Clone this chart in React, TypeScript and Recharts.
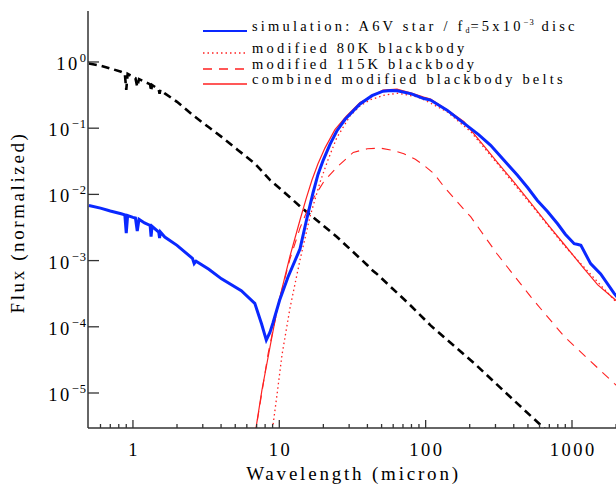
import React from 'react';
import { LineChart, Line, XAxis, YAxis, Legend } from 'recharts';

// ---------- data (wavelength in micron, normalized flux) ----------
const starWavelength = [0.5, 0.6, 0.7, 0.83, 0.88, 0.9, 0.92, 1.04, 1.07, 1.1, 1.27, 1.31, 1.33, 1.35, 1.5, 1.52, 1.54, 1.65, 2.0, 2.65, 3.3, 4.03, 5.2, 6.81, 8.66, 10, 14.2, 24.8, 40, 43, 46, 78.9, 108, 215, 424, 600, 700];
const starFlux = [0.95, 0.88, 0.8, 0.71, 0.67, 0.38, 0.66, 0.57, 0.42, 0.55, 0.476, 0.46, 0.36, 0.45, 0.385, 0.33, 0.38, 0.336, 0.25, 0.149, 0.103, 0.0739, 0.047, 0.0292, 0.0164, 0.0125, 0.0063, 0.00227, 0.00085, 0.00072, 0.00064, 0.00021, 0.000105, 0.000028, 0.0000069, 0.0000034, 0.0000025];

const simWavelength = [0.5, 0.6, 0.7, 0.83, 0.88, 0.9, 0.92, 1.0, 1.04, 1.07, 1.1, 1.2, 1.31, 1.33, 1.35, 1.5, 1.52, 1.54, 1.65, 2.0, 2.55, 2.62, 2.7, 3.3, 4.03, 5.5, 6.8, 7.57, 8.15, 8.64, 9.05, 10.06, 11.47, 13.85, 15.22, 16.99, 18.38, 19.97, 22.2, 24.66, 28.1, 35.6, 43, 51.2, 58, 64, 80, 97, 108, 140, 183, 230, 278, 343, 424, 500, 580, 680, 797, 900, 1035, 1100, 1150, 1340, 1570, 1940, 2100];
const simFlux = [0.0068, 0.0062, 0.0056, 0.0051, 0.0049, 0.0026, 0.0048, 0.0045, 0.0044, 0.0028, 0.0042, 0.0037, 0.0034, 0.0023, 0.0033, 0.0027, 0.0022, 0.0027, 0.00227, 0.0017, 0.00108, 0.0009, 0.00098, 0.00074, 0.00053, 0.00035, 0.000226, 0.00011, 0.000063, 0.000083, 0.000114, 0.000254, 0.000565, 0.0015, 0.0038, 0.0105, 0.02, 0.033, 0.057, 0.09, 0.135, 0.232, 0.31, 0.362, 0.372, 0.368, 0.33, 0.28, 0.266, 0.187, 0.118, 0.08, 0.055, 0.0327, 0.0194, 0.0125, 0.0081, 0.0055, 0.0036, 0.0025, 0.0018, 0.00175, 0.0017, 0.0009, 0.00063, 0.00032, 0.00026];

const bb80Wavelength = [8.37, 9.01, 9.64, 10.43, 11.83, 13.85, 16.2, 18.97, 21.5, 24.66, 30.4, 35.6, 41.6, 51.1, 63.7, 87.3, 97, 140, 203, 307, 525, 886, 2000, 2100];
const bb80Flux = [0.00000097, 0.000003, 0.0000093, 0.0000375, 0.000192, 0.00102, 0.0046, 0.0152, 0.0331, 0.0711, 0.153, 0.216, 0.267, 0.312, 0.337, 0.299, 0.27, 0.177, 0.089, 0.0297, 0.007, 0.00168, 0.000237, 0.00021];

const bb115Wavelength = [6.5, 6.95, 8.4, 10.06, 11.83, 13.85, 16.2, 20.1, 24.8, 32, 40, 49, 60, 71, 85, 97, 114, 134, 183, 203, 307, 525, 886, 1940, 2100];
const bb115Flux = [0.0000013, 0.000003, 0.00004, 0.00027, 0.00106, 0.0031, 0.0072, 0.0155, 0.026, 0.043, 0.049, 0.05, 0.046, 0.041, 0.034, 0.0276, 0.0206, 0.0129, 0.0059, 0.0046, 0.00127, 0.00028, 0.000071, 0.000014, 0.000012];

const combinedWavelength = [6.5, 6.93, 7.61, 8.64, 9.79, 11.83, 13.85, 15.22, 16.72, 18.38, 20.5, 24.0, 28.6, 35.6, 51.1, 63.7, 80, 97, 108, 140, 183, 203, 250, 307, 400, 525, 700, 886, 1200, 1500, 2000, 2100];
const combinedFlux = [0.0000012, 0.00000296, 0.0000111, 0.0000495, 0.000213, 0.00117, 0.0041, 0.0085, 0.0165, 0.029, 0.05, 0.095, 0.15, 0.245, 0.377, 0.39, 0.34, 0.295, 0.275, 0.19, 0.125, 0.094, 0.054, 0.031, 0.0155, 0.0073, 0.0033, 0.00175, 0.00077, 0.00043, 0.00025, 0.00022];

const xMajorTicks = [1, 10, 100, 1000];
const xMinorTicks = [0.6, 0.7, 0.8, 0.9, 2, 3, 4, 5, 6, 7, 8, 9, 20, 30, 40, 50, 60, 70, 80, 90, 200, 300, 400, 500, 600, 700, 800, 900, 2000];
const yMajorTicks = [1, 0.1, 0.01, 0.001, 0.0001, 0.00001];
const yTickExponents = ['0', '\u22121', '\u22122', '\u22123', '\u22124', '\u22125'];

const legendLabels = [
  'simulation: A6V star / f_d=5x10^-3 disc',
  'modified 80K blackbody',
  'modified 115K blackbody',
  'combined modified blackbody belts',
];

const zip = (xs: number[], ys: number[]) => xs.map((x, i) => ({ x, y: ys[i] }));

const starData = zip(starWavelength, starFlux);
const simData = zip(simWavelength, simFlux);
const bb80Data = zip(bb80Wavelength, bb80Flux);
const bb115Data = zip(bb115Wavelength, bb115Flux);
const combinedData = zip(combinedWavelength, combinedFlux);

// ---------- styling ----------
const FONT = '"Liberation Serif", "DejaVu Serif", serif';
const AXIS = '#333';
const BLUE = '#0a28ff';
const RED = '#ff2020';

const allXTicks = [...xMajorTicks, ...xMinorTicks].sort((a, b) => a - b);

const BottomTick = (props: any) => {
  const { x, y, payload } = props;
  const major = xMajorTicks.includes(payload.value);
  return (
    <g>
      <line x1={x} y1={y} x2={x} y2={y - (major ? 8 : 4)} stroke={AXIS} strokeWidth={1.3} />
      {major && (
        <text x={x + 1.2} y={y + 28} textAnchor="middle" fontFamily={FONT} fontSize={18.5} letterSpacing={2.5} fill="#000">
          {payload.value}
        </text>
      )}
    </g>
  );
};

const TopTick = (props: any) => {
  const { x, y, payload } = props;
  const major = xMajorTicks.includes(payload.value);
  return <line x1={x} y1={y} x2={x} y2={y + (major ? 8 : 4)} stroke={AXIS} strokeWidth={1.3} />;
};

const LeftTick = (props: any) => {
  const { x, y, payload } = props;
  const idx = yMajorTicks.findIndex((v) => Math.abs(Math.log10(v) - Math.log10(payload.value)) < 1e-6);
  return (
    <g>
      <line x1={x} y1={y} x2={x + 11} y2={y} stroke={AXIS} strokeWidth={1.3} />
      <text x={x - 1} y={y + 8} textAnchor="end" fontFamily={FONT} fontSize={18.5} letterSpacing={2.5} fill="#000">
        <tspan>10</tspan>
        <tspan dy={-8} fontSize={12.5} letterSpacing={1}>{yTickExponents[idx]}</tspan>
      </text>
    </g>
  );
};

const RightTick = (props: any) => {
  const { x, y } = props;
  return <line x1={x} y1={y} x2={x - 11} y2={y} stroke={AXIS} strokeWidth={1.3} />;
};

const XTitle = (props: any) => {
  const vb = props.viewBox || { x: 88, y: 428, width: 529, height: 57 };
  return (
    <text x={vb.x + vb.width / 2 + 1} y={vb.y + 52} textAnchor="middle" fontFamily={FONT} fontSize={19} letterSpacing={2.8} fill="#000">
      Wavelength (micron)
    </text>
  );
};

const YTitle = (props: any) => {
  const vb = props.viewBox || { x: 0, y: 11, width: 88, height: 417 };
  const cx = vb.x + 24;
  const cy = vb.y + vb.height / 2 + 3;
  return (
    <text x={cx} y={cy} transform={`rotate(-90, ${cx}, ${cy})`} textAnchor="middle" fontFamily={FONT} fontSize={19} letterSpacing={2.6} fill="#000">
      Flux (normalized)
    </text>
  );
};

const seriesStyles = [
  { color: BLUE, width: 3, dash: undefined as string | undefined },
  { color: RED, width: 1.3, dash: '1.5 3' },
  { color: RED, width: 1.1, dash: '9 7' },
  { color: RED, width: 1.2, dash: undefined as string | undefined },
];

const legendBaselines = [31, 53, 69, 84];

const renderLegend = () => (
  <svg width={616} height={100} style={{ display: 'block' }}>
    {legendLabels.map((label, i) => {
      const s = seriesStyles[i];
      const yb = legendBaselines[i];
      return (
        <g key={label}>
          <line x1={203} y1={yb} x2={247} y2={yb} stroke={s.color} strokeWidth={s.width === 3 ? 2 : 1.3} strokeDasharray={s.dash} />
          {i === 0 ? (
            <text x={252} y={yb} fontFamily={FONT} fontSize={14.5} letterSpacing={3.2} fill="#000">
              <tspan>simulation: A6V star / f</tspan>
              <tspan dy={2} fontSize={8} letterSpacing={1}>d</tspan>
              <tspan dy={-2}>=5x10</tspan>
              <tspan dy={-6} fontSize={8.5} letterSpacing={1}>{'\u22123'}</tspan>
              <tspan dy={6}> disc</tspan>
            </text>
          ) : (
            <text x={252} y={yb} fontFamily={FONT} fontSize={14.5} letterSpacing={3.2} fill="#000">
              {label}
            </text>
          )}
        </g>
      );
    })}
  </svg>
);

export default function App() {
  return (
    <div style={{ position: 'absolute', left: 0, top: 0, width: 616, height: 485, overflow: 'hidden', background: '#fff' }}>
      <LineChart width={620} height={485} margin={{ top: 11, right: 3, bottom: 0, left: 0 }}>
        <XAxis
          xAxisId="bottom"
          dataKey="x"
          type="number"
          scale="log"
          domain={[0.493, 2030]}
          allowDataOverflow
          ticks={allXTicks}
          interval={0}
          tick={<BottomTick />}
          tickSize={0}
          tickMargin={0}
          height={57}
          axisLine={{ stroke: AXIS, strokeWidth: 1.5 }}
          label={<XTitle />}
        />
        <XAxis
          xAxisId="top"
          orientation="top"
          dataKey="x"
          type="number"
          scale="log"
          domain={[0.493, 2030]}
          allowDataOverflow
          ticks={allXTicks}
          interval={0}
          tick={<TopTick />}
          tickSize={0}
          tickMargin={0}
          height={0}
          axisLine={{ stroke: AXIS, strokeWidth: 1.5 }}
        />
        <YAxis
          yAxisId="left"
          dataKey="y"
          type="number"
          scale="log"
          domain={[2.96e-6, 5.89]}
          allowDataOverflow
          ticks={yMajorTicks}
          interval={0}
          tick={<LeftTick />}
          tickSize={0}
          tickMargin={0}
          width={88}
          axisLine={{ stroke: AXIS, strokeWidth: 1.5 }}
          label={<YTitle />}
        />
        <YAxis
          yAxisId="right"
          orientation="right"
          dataKey="y"
          type="number"
          scale="log"
          domain={[2.96e-6, 5.89]}
          allowDataOverflow
          ticks={yMajorTicks}
          interval={0}
          tick={<RightTick />}
          tickSize={0}
          tickMargin={0}
          width={0}
          axisLine={{ stroke: AXIS, strokeWidth: 1.5 }}
        />
        <Legend content={renderLegend} layout="horizontal" verticalAlign="middle" align="center" wrapperStyle={{ left: 0, top: 0, width: 616, height: 100 }} />
        <Line xAxisId="bottom" yAxisId="left" data={starData} dataKey="y" type="linear" stroke="#000" strokeWidth={2.6} strokeDasharray="8 5" dot={false} activeDot={false} isAnimationActive={false} legendType="none" />
        <Line xAxisId="bottom" yAxisId="left" data={bb115Data} dataKey="y" type="linear" stroke={RED} strokeWidth={seriesStyles[2].width} strokeDasharray={seriesStyles[2].dash} dot={false} activeDot={false} isAnimationActive={false} />
        <Line xAxisId="bottom" yAxisId="left" data={bb80Data} dataKey="y" type="linear" stroke={RED} strokeWidth={seriesStyles[1].width} strokeDasharray={seriesStyles[1].dash} dot={false} activeDot={false} isAnimationActive={false} />
        <Line xAxisId="bottom" yAxisId="left" data={combinedData} dataKey="y" type="linear" stroke={RED} strokeWidth={seriesStyles[3].width} dot={false} activeDot={false} isAnimationActive={false} />
        <Line xAxisId="bottom" yAxisId="left" data={simData} dataKey="y" type="linear" stroke={BLUE} strokeWidth={3} dot={false} activeDot={false} isAnimationActive={false} />
      </LineChart>
    </div>
  );
}
